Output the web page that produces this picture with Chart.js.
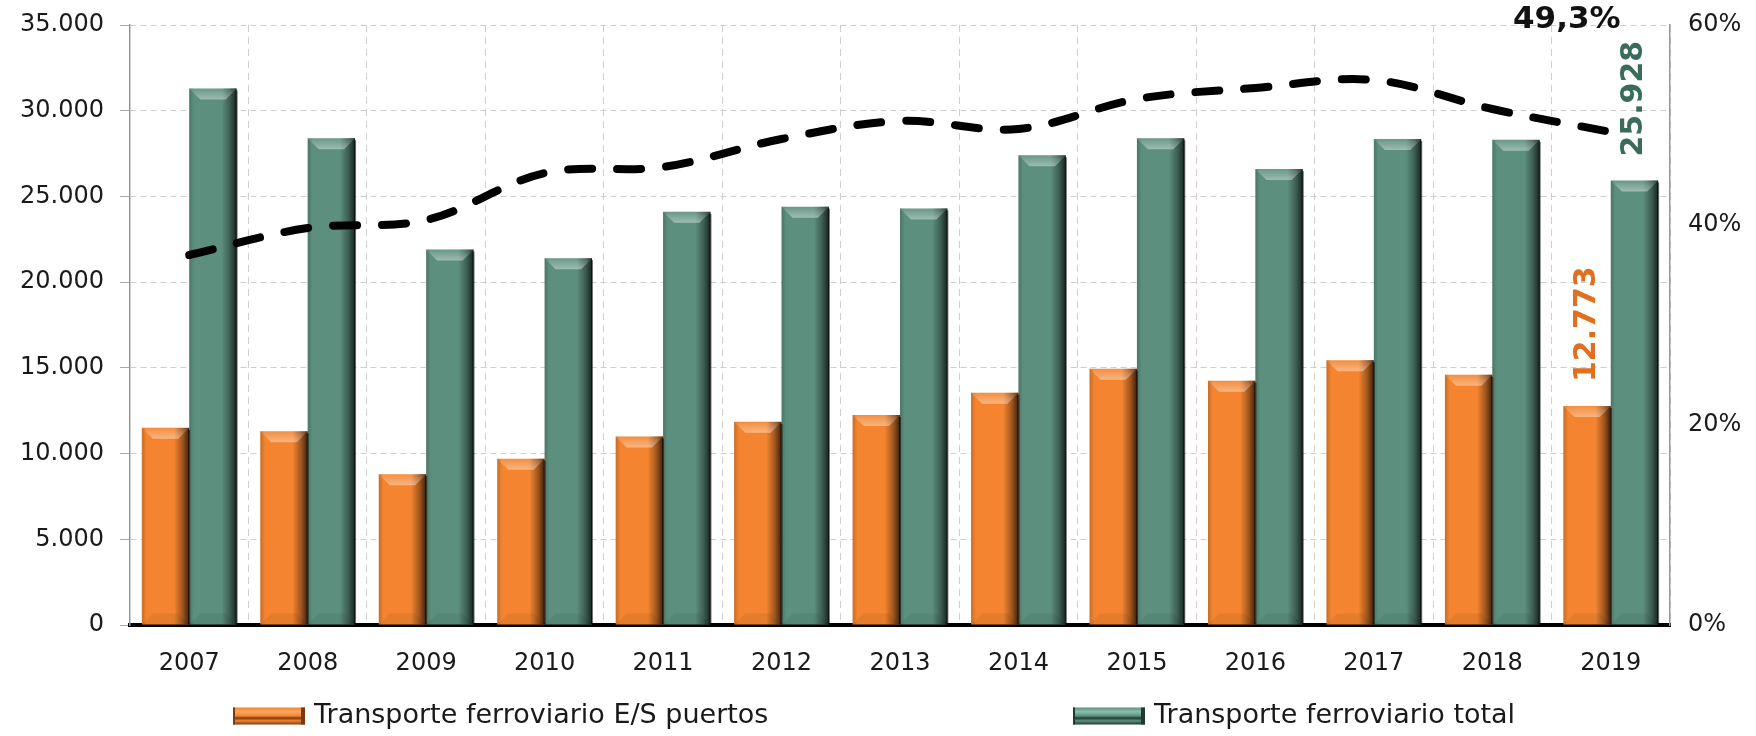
<!DOCTYPE html>
<html lang="es">
<head>
<meta charset="utf-8">
<title>Transporte ferroviario</title>
<script src="https://cdn.jsdelivr.net/npm/chart.js@4.4.1/dist/chart.umd.min.js"></script>
<style>
    html, body { margin: 0; padding: 0; background: #fff; }
    #chart { display: block; }
</style>
</head>
<body>
<canvas id="chart" width="1756" height="736"></canvas>
<script>
const years = ['2007', '2008', '2009', '2010', '2011', '2012', '2013', '2014', '2015', '2016', '2017', '2018', '2019'];
const puertos = [11500, 11300, 8800, 9700, 11000, 11850, 12250, 13550, 14950, 14250, 15450, 14600, 12773];
const total = [31300, 28400, 21900, 21400, 24100, 24400, 24300, 27400, 28400, 26600, 28350, 28300, 25928];
const cuota = [37.0, 39.7, 40.5, 45.2, 45.8, 48.6, 50.4, 49.6, 52.6, 53.7, 54.5, 51.6, 49.3];

const leftTicks = ['0', '5.000', '10.000', '15.000', '20.000', '25.000', '30.000', '35.000'];
const rightTicks = ['0%', '20%', '40%', '60%'];

const FONT = "'DejaVu Sans', sans-serif";
const ORANGE = '#f4842f';
const GREEN = '#5c8f7e';

// miles con punto, decimales con coma
const fmtNum = n => String(n).replace(/\B(?=(\d{3})+(?!\d))/g, '.');
const fmtPct = n => n.toFixed(1).replace('.', ',') + '%';

// relieve de las barras: sombra lateral y biselado arriba/abajo
const bevelBars = {
    id: 'bevelBars',
    afterDatasetDraw(chart, args) {
        if (args.meta.type !== 'bar') return;
        const ctx = chart.ctx;
        args.meta.data.forEach(el => {
            const { x, y, base, width } = el.getProps(['x', 'y', 'base', 'width'], true);
            const l = x - width / 2, r = x + width / 2;
            const top = Math.min(y, base), bot = Math.max(y, base);
            const h = bot - top;
            const b = Math.min(11, h / 3);

            ctx.save();
            const g = ctx.createLinearGradient(l, 0, r, 0);
            g.addColorStop(0, 'rgba(0,0,0,0.18)');
            g.addColorStop(0.1, 'rgba(0,0,0,0)');
            g.addColorStop(0.68, 'rgba(0,0,0,0)');
            g.addColorStop(0.86, 'rgba(0,0,0,0.35)');
            g.addColorStop(1, 'rgba(0,0,0,0.75)');
            ctx.fillStyle = g;
            ctx.fillRect(l, top, width, h);

            // bisel superior
            ctx.beginPath();
            ctx.moveTo(l, top);
            ctx.lineTo(r, top);
            ctx.lineTo(r - b, top + b);
            ctx.lineTo(l + b, top + b);
            ctx.closePath();
            const gt = ctx.createLinearGradient(0, top, 0, top + b);
            gt.addColorStop(0, 'rgba(255,255,255,0.08)');
            gt.addColorStop(1, 'rgba(255,255,255,0.4)');
            ctx.fillStyle = gt;
            ctx.fill();

            // bisel inferior
            ctx.beginPath();
            ctx.moveTo(l, bot);
            ctx.lineTo(r, bot);
            ctx.lineTo(r - b, bot - b);
            ctx.lineTo(l + b, bot - b);
            ctx.closePath();
            ctx.fillStyle = 'rgba(0,0,0,0.06)';
            ctx.fill();

            // borde oscuro a la derecha
            ctx.fillStyle = 'rgba(0,0,0,0.55)';
            ctx.fillRect(r - 1, top + 2, 2, h - 2);
            ctx.restore();
        });
    }
};

// etiquetas del ultimo año
const lastLabels = {
    id: 'lastLabels',
    afterDatasetsDraw(chart) {
        const ctx = chart.ctx;
        const last = years.length - 1;
        const barP = chart.getDatasetMeta(0).data[last];
        const barT = chart.getDatasetMeta(1).data[last];
        const pt = chart.getDatasetMeta(2).data[last];

        ctx.save();
        ctx.font = `bold 30px ${FONT}`;
        ctx.textBaseline = 'middle';
        ctx.textAlign = 'left';

        ctx.save();
        ctx.translate(barP.x, barP.y - 24);
        ctx.rotate(-Math.PI / 2);
        ctx.fillStyle = '#e0701f';
        ctx.fillText(fmtNum(puertos[last]), 0, 0);
        ctx.restore();

        ctx.save();
        ctx.translate(barT.x, barT.y - 24);
        ctx.rotate(-Math.PI / 2);
        ctx.fillStyle = '#3b6b5b';
        ctx.fillText(fmtNum(total[last]), 0, 0);
        ctx.restore();

        ctx.font = `bold 31px ${FONT}`;
        ctx.textAlign = 'center';
        ctx.fillStyle = '#111';
        ctx.fillText(fmtPct(cuota[last]), pt.x - 44, 20);
        ctx.restore();
    }
};

// leyenda con muestras en forma de tubo
const tubeLegend = {
    id: 'tubeLegend',
    afterDraw(chart) {
        const ctx = chart.ctx;
        const items = [
            { x: 233, ds: chart.data.datasets[0], dark: '#7a3a10', light: '#f9a860' },
            { x: 1073, ds: chart.data.datasets[1], dark: '#1f3a31', light: '#8cbfae' }
        ];
        const cy = 716, w = 72, h = 17;
        ctx.save();
        items.forEach(it => {
            const top = cy - h / 2;
            const g = ctx.createLinearGradient(0, top, 0, top + h);
            g.addColorStop(0, it.ds.backgroundColor);
            g.addColorStop(0.25, it.light);
            g.addColorStop(0.5, it.ds.backgroundColor);
            g.addColorStop(0.62, it.dark);
            g.addColorStop(0.78, it.ds.backgroundColor);
            g.addColorStop(1, it.dark);
            ctx.fillStyle = g;
            ctx.fillRect(it.x, top, w, h);
            ctx.fillStyle = it.dark;
            ctx.fillRect(it.x + w - 4, top, 4, h);
            ctx.fillRect(it.x, top, 2, h);

            ctx.fillStyle = '#1a1a1a';
            ctx.font = `27px ${FONT}`;
            ctx.textBaseline = 'middle';
            ctx.textAlign = 'left';
            ctx.fillText(it.ds.label, it.x + w + 9, cy);
        });
        ctx.restore();
    }
};

// ejes verticales con ancho fijo y sin margen extra por las etiquetas
const fitY = width => s => {
    s.width = width;
    s.paddingTop = 0;
    s.paddingBottom = 0;
};

new Chart(document.getElementById('chart'), {
    data: {
        labels: years,
        datasets: [
            {
                type: 'bar',
                label: 'Transporte ferroviario E/S puertos',
                data: puertos,
                backgroundColor: ORANGE,
                yAxisID: 'y',
                order: 1,
                categoryPercentage: 0.8,
                barPercentage: 1.0
            },
            {
                type: 'bar',
                label: 'Transporte ferroviario total',
                data: total,
                backgroundColor: GREEN,
                yAxisID: 'y',
                order: 1,
                categoryPercentage: 0.8,
                barPercentage: 1.0
            },
            {
                type: 'line',
                label: 'Cuota',
                data: cuota,
                yAxisID: 'y2',
                order: 0,
                borderColor: '#000',
                borderWidth: 8,
                borderDash: [24, 25],
                borderCapStyle: 'round',
                tension: 0.35,
                pointRadius: 0,
                fill: false
            }
        ]
    },
    options: {
        responsive: false,
        animation: false,
        devicePixelRatio: 1,
        layout: { padding: { top: 25, left: 0, right: 0, bottom: 0 } },
        plugins: {
            legend: { display: false },
            tooltip: { enabled: false }
        },
        scales: {
            x: {
                grid: { color: '#cfcfcf', lineWidth: 1, drawTicks: false, offset: true },
                border: { color: '#000', width: 4, dash: [7, 5] },
                ticks: { color: '#1a1a1a', font: { family: FONT, size: 24 }, padding: 24 },
                afterFit: s => { s.height = 111; }
            },
            y: {
                position: 'left',
                min: 0,
                max: 35000,
                grid: { color: '#cfcfcf', lineWidth: 1, tickLength: 10, tickColor: '#aaa' },
                border: { color: '#999', width: 1.5, dash: [6, 4] },
                ticks: {
                    stepSize: 5000,
                    color: '#1a1a1a',
                    font: { family: FONT, size: 24 },
                    padding: 16,
                    callback: (v, i) => leftTicks[i]
                },
                afterFit: fitY(130)
            },
            y2: {
                position: 'right',
                min: 0,
                max: 60,
                grid: { display: false, drawOnChartArea: false },
                border: { color: '#999', width: 1.5 },
                ticks: {
                    stepSize: 20,
                    color: '#1a1a1a',
                    font: { family: FONT, size: 24 },
                    padding: 10,
                    callback: (v, i) => rightTicks[i]
                },
                afterFit: fitY(86)
            }
        }
    },
    plugins: [bevelBars, lastLabels, tubeLegend]
});
</script>
</body>
</html>
